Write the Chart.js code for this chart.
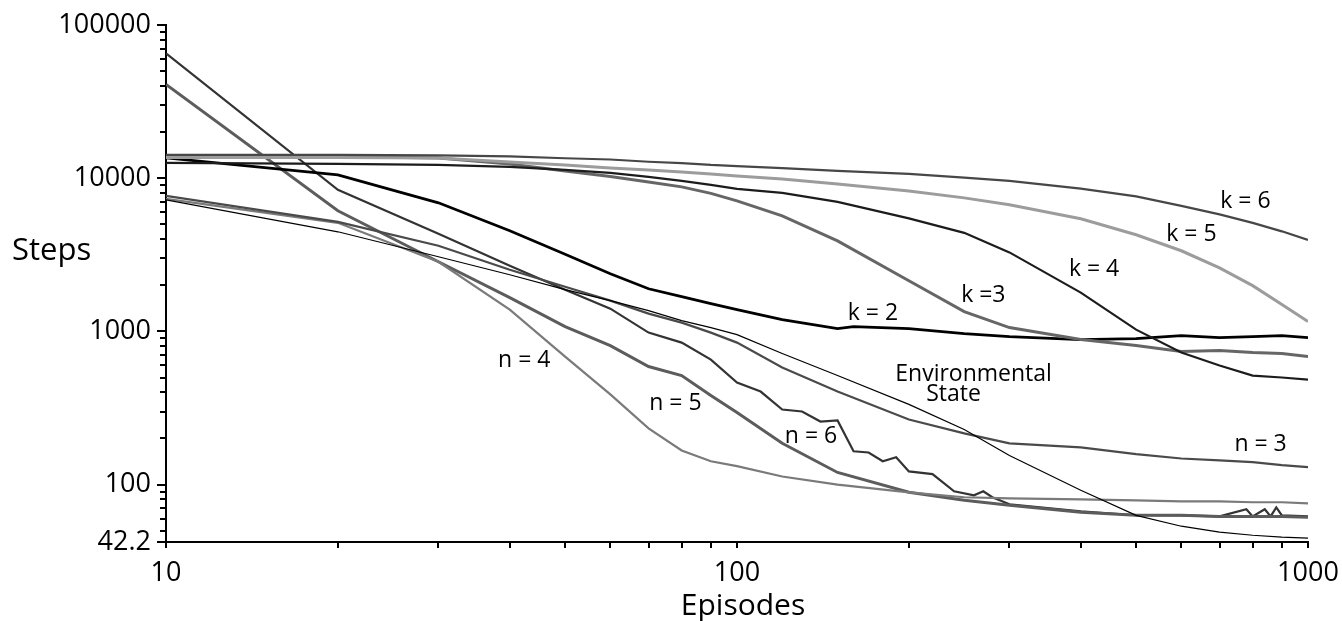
<!DOCTYPE html>
<html>
<head>
<meta charset="utf-8">
<script src="https://cdn.jsdelivr.net/npm/chart.js@4.4.1/dist/chart.umd.min.js"></script>
<style>
    html, body { margin: 0; padding: 0; background: #fff; }
    #wrap { width: 1342px; height: 621px; }
</style>
</head>
<body>
<div id="wrap"><canvas id="stepsChart" width="1342" height="621"></canvas></div>
<script>
// episodes (x) shared by most curves
var episodes = [10, 20, 30, 40, 50, 60, 70, 80, 90, 100, 120, 150, 200, 250, 300, 400, 500, 600, 700, 800, 900, 1000];

// steps per episode
var k6 = [14180, 14180, 14100, 13900, 13500, 13250, 12800, 12550, 12200, 12000, 11650, 11150, 10670, 10100, 9600, 8550, 7600, 6600, 5800, 5110, 4500, 3960];
var k5 = [13660, 13660, 13560, 12770, 12210, 11670, 11330, 10990, 10670, 10350, 9890, 9180, 8260, 7440, 6700, 5430, 4272, 3360, 2600, 1990, 1500, 1160];
var k4 = [12580, 12390, 12210, 11850, 11330, 10830, 10200, 9600, 9040, 8520, 8020, 7010, 5470, 4400, 3280, 1790, 1027, 728, 599, 515, 500, 485];
var k3 = [13970, 13870, 13560, 12390, 11160, 10270, 9460, 8780, 7960, 7110, 5680, 3900, 2140, 1346, 1059, 884, 808, 739, 750, 728, 717, 685];
var n3 = [7668, 5192, 3622, 2527, 1958, 1588, 1306, 1141, 982, 845, 581, 405, 266, 216, 186, 175, 158, 148, 144, 140, 134, 130];
var n4 = [7330, 5114, 2849, 1387, 685, 388, 233, 167, 142, 132, 113, 100, 89, 82.7, 81.4, 80.2, 79, 77.8, 77.8, 76.7, 76.7, 75.5];
var n5 = [40960, 6124, 2849, 1661, 1075, 808, 590, 515, 382, 296, 186, 120, 89.1, 79, 73.3, 66, 63.1, 63, 62, 62, 62, 61.2];
var envState = [7222, 4469, 3071, 2344, 1872, 1588, 1366, 1176, 1059, 953, 717, 515, 334, 229, 155, 91.8, 63, 53.5, 48.9, 46.7, 45.4, 44.7];

// k = 2 has a small bump near 160
var k2Episodes = [10, 20, 30, 40, 50, 60, 70, 80, 90, 100, 120, 150, 160, 200, 250, 300, 400, 500, 600, 700, 800, 900, 1000];
var k2 = [13560, 10510, 6905, 4537, 3189, 2379, 1900, 1686, 1518, 1387, 1194, 1043, 1075, 1043, 968, 925, 884, 898, 939, 911, 925, 939, 911];

// n = 6 is jagged, so it gets a finer grid
var n6Episodes = [10, 20, 30, 40, 50, 60, 70, 80, 90, 100, 110, 120, 130, 140, 150, 160, 170, 180, 190, 200, 220, 240, 260, 270, 280, 300, 400, 500, 600, 700, 780, 800, 840, 860, 880, 900, 1000];
var n6 = [65220, 8390, 4336, 2684, 1872, 1408, 982, 845, 655, 464, 405, 309, 300, 258, 262, 165, 162, 142, 151, 122, 117, 90.4, 85.2, 90.4, 82.7, 74.4, 67, 63.1, 63, 62, 69, 62, 69, 62, 71, 63, 62];

// axis ticks
var xTicks = [10, 20, 30, 40, 50, 60, 70, 80, 90, 100, 200, 300, 400, 500, 600, 700, 800, 900, 1000];
var xLabelled = [10, 100, 1000];
var yTicks = [42.2, 50, 60, 70, 80, 90, 100, 200, 300, 400, 500, 600, 700, 800, 900, 1000,
    2000, 3000, 4000, 5000, 6000, 7000, 8000, 9000, 10000,
    20000, 30000, 40000, 50000, 60000, 70000, 80000, 90000, 100000];
var yLabelled = [42.2, 100, 1000, 10000, 100000];

// curve labels, anchored in data space (episode, steps)
var labelTexts = ['k = 6', 'k = 5', 'k = 4', 'k =3', 'k = 2', 'Environmental', 'State', 'n = 3', 'n = 4', 'n = 5', 'n = 6'];
var labelEpisodes = [777, 625, 422, 270, 173, 259.6, 239.5, 826, 42.4, 78, 134.8];
var labelSteps = [6404, 3904, 2309, 1564, 1194, 471, 349, 165, 590, 305, 186];

function pairs(xs, ys) {
    var out = [];
    for (var i = 0; i < xs.length; i++) {
        out.push({x: xs[i], y: ys[i]});
    }
    return out;
}

function series(name, xs, ys, color, width) {
    return {
        label: name,
        data: pairs(xs, ys),
        borderColor: color,
        borderWidth: width,
        pointRadius: 0,
        tension: 0,
        fill: false
    };
}

var datasets = [
    series('Environmental State', episodes, envState, '#000000', 1.2),
    series('k = 6', episodes, k6, '#474747', 2.2),
    series('k = 5', episodes, k5, '#9c9c9c', 3),
    series('k = 4', episodes, k4, '#1c1c1c', 2.2),
    series('k = 3', episodes, k3, '#666666', 3),
    series('k = 2', k2Episodes, k2, '#000000', 2.7),
    series('n = 3', episodes, n3, '#4a4a4a', 2.2),
    series('n = 4', episodes, n4, '#7a7a7a', 2.2),
    series('n = 5', episodes, n5, '#5c5c5c', 3),
    series('n = 6', n6Episodes, n6, '#333333', 2.2)
];

var FONT = '"Open Sans", sans-serif';

// tick marks, axis titles and curve labels
var decorations = {
    id: 'decorations',
    afterDraw: function(chart) {
        var ctx = chart.ctx;
        var xs = chart.scales.x;
        var ys = chart.scales.y;
        var area = chart.chartArea;
        ctx.save();
        ctx.strokeStyle = '#000';
        ctx.lineWidth = 2;
        yTicks.forEach(function(v) {
            var py = Math.round(ys.getPixelForValue(v));
            var len = yLabelled.indexOf(v) >= 0 ? 9 : 6;
            ctx.beginPath();
            ctx.moveTo(area.left - len, py);
            ctx.lineTo(area.left, py);
            ctx.stroke();
        });
        xTicks.forEach(function(v) {
            var px = Math.round(xs.getPixelForValue(v));
            ctx.beginPath();
            ctx.moveTo(px, area.bottom);
            ctx.lineTo(px, area.bottom + 6);
            ctx.stroke();
        });

        ctx.fillStyle = '#000';
        ctx.textBaseline = 'alphabetic';
        ctx.font = '31px ' + FONT;
        ctx.textAlign = 'left';
        ctx.fillText('Steps', 12, 260);
        ctx.font = '30px ' + FONT;
        ctx.textAlign = 'center';
        ctx.fillText('Episodes', (area.left + area.right) / 2 + 6, 615);

        ctx.font = '23px ' + FONT;
        for (var i = 0; i < labelTexts.length; i++) {
            ctx.fillText(labelTexts[i], xs.getPixelForValue(labelEpisodes[i]), ys.getPixelForValue(labelSteps[i]));
        }
        ctx.restore();
    }
};

var ctx = document.getElementById('stepsChart').getContext('2d');
var chart = new Chart(ctx, {
    type: 'line',
    data: { datasets: datasets },
    plugins: [decorations],
    options: {
        responsive: false,
        animation: false,
        layout: { padding: { top: 25, right: 34, left: 0, bottom: 0 } },
        plugins: {
            legend: { display: false },
            tooltip: { enabled: false }
        },
        scales: {
            x: {
                type: 'logarithmic',
                position: 'bottom',
                min: 10,
                max: 1000,
                afterBuildTicks: function(scale) {
                    scale.ticks = xTicks.map(function(v) { return {value: v}; });
                },
                afterFit: function(scale) {
                    scale.height = 79;
                    scale.paddingLeft = 0;
                    scale.paddingRight = 0;
                },
                grid: { drawOnChartArea: false, drawTicks: false },
                border: { display: true, color: '#000', width: 2 },
                ticks: {
                    autoSkip: false,
                    maxRotation: 0,
                    padding: 15,
                    color: '#000',
                    font: { family: FONT, size: 27 },
                    callback: function(v) { return xLabelled.indexOf(v) >= 0 ? String(v) : ''; }
                }
            },
            y: {
                type: 'logarithmic',
                position: 'left',
                min: 42.2,
                max: 100000,
                afterBuildTicks: function(scale) {
                    scale.ticks = yTicks.map(function(v) { return {value: v}; });
                },
                afterFit: function(scale) {
                    scale.width = 166;
                    scale.paddingTop = 0;
                    scale.paddingBottom = 0;
                },
                grid: { drawOnChartArea: false, drawTicks: false },
                border: { display: true, color: '#000', width: 2 },
                ticks: {
                    autoSkip: false,
                    padding: 15,
                    color: '#000',
                    font: { family: FONT, size: 27 },
                    callback: function(v) { return yLabelled.indexOf(v) >= 0 ? String(v) : ''; }
                }
            }
        }
    }
});
</script>
</body>
</html>
